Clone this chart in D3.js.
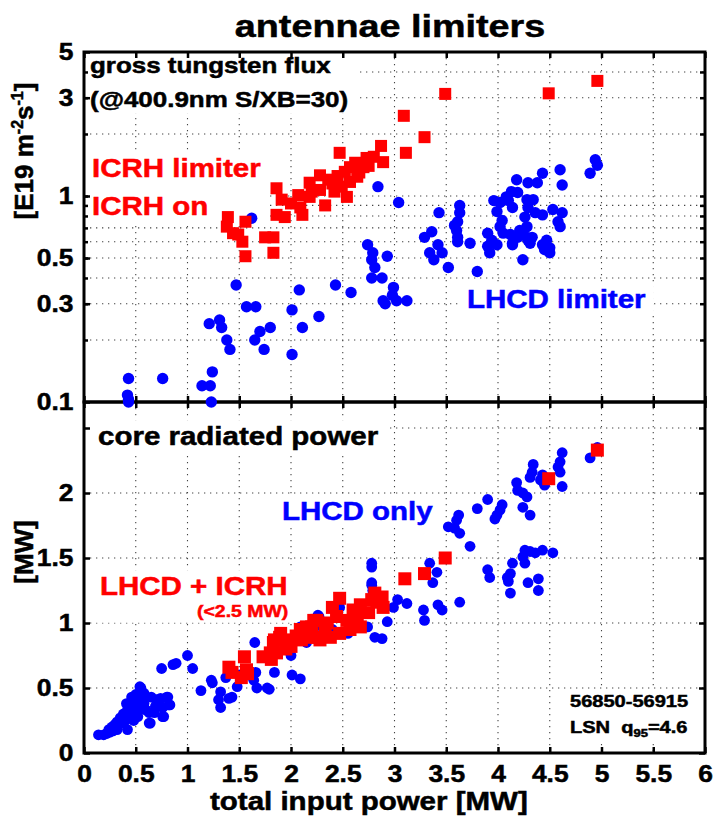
<!DOCTYPE html>
<html><head><meta charset="utf-8">
<script src="https://cdn.jsdelivr.net/npm/d3@7"></script>
<style>
body{margin:0;background:#fff;}
svg{display:block;font-family:"Liberation Sans",Arial,Helvetica,sans-serif;font-weight:bold;}
</style></head><body>
<svg id="chart" width="720" height="816"></svg>
<script>
// ---------------- data ----------------
const xTickValues = [0,0.5,1,1.5,2,2.5,3,3.5,4,4.5,5,5.5,6];
const xGridValues = [0.5,1,1.5,2,2.5,3,3.5,4,4.5,5,5.5];
const fluxTickValues = [0.1,0.3,0.5,1,3,5];
const fluxMinorValues = [0.2,0.3,0.4,0.5,0.6,0.7,0.8,0.9,1,2,3,4];
const radTickValues = [0,0.5,1,1.5,2,2.5];
const radGridValues = [0.5,1,1.5,2,2.5];

// gross tungsten flux, LHCD limiter [total power MW, flux E19 m^-2 s^-1]
const fluxLhcd = [
[0.43,0.13],[0.76,0.13],[1.24,0.14],[1.14,0.12],[1.22,0.12],[0.42,0.108],[0.43,0.103],[0.43,0.10],[1.23,0.10],
[1.21,0.24],[1.31,0.25],[1.33,0.23],[1.38,0.20],[1.41,0.18],[1.47,0.37],[1.57,0.29],[1.66,0.29],[1.70,0.22],[1.65,0.20],
[1.80,0.23],[1.74,0.18],[2.01,0.28],[2.08,0.35],[2.11,0.23],[2.01,0.17],[2.27,0.26],[2.43,0.37],[2.58,0.34],[1.62,0.78],[2.84,1.11],
[2.74,0.58],[2.79,0.53],[2.78,0.49],[2.81,0.45],[2.78,0.40],[2.88,0.40],[2.93,0.51],[2.99,0.36],[2.98,0.33],[2.89,0.31],[2.91,0.30],[3.02,0.31],[3.12,0.31],
[3.04,0.93],[3.43,0.83],[3.63,0.90],[3.63,0.83],[3.61,0.75],[3.60,0.68],[3.61,0.63],[3.61,0.60],[3.58,0.72],[3.73,0.59],[3.29,0.63],[3.36,0.67],
[3.34,0.53],[3.38,0.49],[3.42,0.58],[3.46,0.53],[3.52,0.45],[3.80,0.43],
[3.90,0.66],[3.94,0.61],[3.90,0.57],[3.92,0.53],[3.99,0.58],[4.02,0.93],[4.08,0.99],[3.99,0.84],[4.04,0.76],[4.02,0.71],[4.05,0.66],[4.14,0.88],
[4.12,0.65],[4.14,0.58],[4.19,0.63],[4.14,0.59],[4.21,0.68],[4.28,0.63],[4.31,0.59],[4.24,0.49],
[4.18,1.20],[4.19,1.04],[4.29,1.16],[4.28,0.96],[4.29,0.88],[4.26,0.79],[4.28,0.71],[4.24,0.65],[4.29,0.61],[4.34,0.96],[4.36,0.83],[4.38,1.16],
[4.43,1.29],[4.33,0.63],[4.47,0.61],[4.50,0.56],[4.43,0.58],[4.45,0.55],[4.50,0.53],[4.53,0.86],[4.62,0.83],[4.58,0.75],[4.60,0.71],[4.43,0.81],
[4.60,1.34],[4.62,1.13],[4.94,1.50],[4.96,1.41],[4.89,1.29],[4.10,0.95],[4.13,1.05],[3.96,0.95]
];
// gross tungsten flux, ICRH limiter (ICRH on)
const fluxIcrh = [
[1.39,0.79],[1.38,0.71],[1.44,0.66],[1.49,0.65],[1.56,0.75],[1.53,0.60],[1.56,0.51],[1.75,0.63],[1.83,0.63],[1.83,0.53],
[1.86,0.81],[1.94,0.79],[2.11,0.81],[2.33,0.90],[1.86,1.09],[1.91,0.96],[2.07,1.01],[2.18,0.99],[2.09,0.88],[2.28,1.26],
[2.36,1.20],[2.28,1.07],[2.18,1.16],[2.47,1.62],[2.57,1.38],[2.52,1.31],[2.64,1.24],[2.57,1.17],[2.49,1.11],[2.54,0.99],
[2.70,1.38],[2.80,1.55],[2.73,1.53],[2.87,1.75],[2.89,1.46],[3.09,2.45],[3.29,1.93],[3.11,1.62],[3.49,3.13],[4.49,3.15],[4.96,3.62],
[2.40,1.15],[2.45,1.25],[2.62,1.45],[2.66,1.30],[2.20,1.05],[2.00,0.92],[2.75,1.40],[2.42,1.05]
];
// core radiated power, LHCD only [total power MW, Prad MW]
const radLhcd = [
[4.96,2.35],[4.89,2.27],[4.62,2.31],[4.60,2.24],[4.58,2.20],[4.60,2.16],[4.62,2.05],
[4.34,2.22],[4.33,2.16],[4.31,2.12],[4.18,2.08],[4.19,2.02],[4.24,2.00],[4.28,1.97],[4.43,2.14],[4.45,2.06],[4.41,2.10],
[4.24,1.89],[4.31,1.83],[3.90,1.95],[3.80,1.88],[4.04,1.91],[4.02,1.87],[3.99,1.83],[3.97,1.80],
[3.62,1.83],[3.60,1.79],[3.52,1.74],[3.58,1.73],[3.63,1.69],[3.73,1.59],[2.78,1.46],[2.78,1.43],
[4.26,1.56],[4.31,1.55],[4.24,1.51],[4.26,1.46],[4.36,1.54],[4.43,1.56],[4.53,1.54],[4.14,1.46],[4.12,1.38],[4.09,1.35],[4.10,1.32],
[3.90,1.41],[3.92,1.35],[4.12,1.23],[4.29,1.31],[4.39,1.34],[4.39,1.25],
[3.34,1.46],[3.41,1.39],[3.37,1.31],[3.63,1.16],[3.12,1.15],[3.28,1.10],[3.29,1.02],[3.42,1.14],[3.46,1.10],[2.93,1.01],[2.81,0.89],[2.88,0.88],
[3.03,1.18],[2.78,1.31],[2.78,1.29],[2.79,1.25],[2.99,1.12],[2.74,0.97],[2.26,1.06],[2.09,0.97],[1.65,0.85],[2.47,1.12],[2.27,1.05],[2.10,0.96],
[2.01,0.60],[2.09,0.57],[1.66,0.62],[1.64,0.56],[1.67,0.50],[1.77,0.50],[1.79,0.49],[1.62,0.62],[1.48,0.51],[1.43,0.43],[1.40,0.42],[1.32,0.47],
[1.30,0.41],[1.32,0.35],[1.13,0.48],[1.23,0.56],[1.24,0.54],[1.37,0.58],[1.00,0.75],[1.05,0.65],[0.75,0.65],[0.86,0.68],[0.89,0.69],
[0.55,0.50],[0.51,0.41],[0.48,0.37],[0.42,0.33],[0.39,0.28],[0.32,0.24],[0.27,0.20],[0.19,0.14],[0.24,0.18],[0.36,0.23],[0.45,0.28],[0.53,0.33],
[0.58,0.38],[0.65,0.43],[0.74,0.42],[0.80,0.43],[0.82,0.37],[0.70,0.41],[0.63,0.23],[0.68,0.31],[0.77,0.28],[0.63,0.31],[0.42,0.18],[0.32,0.18],
[0.48,0.25],[0.41,0.38],[0.46,0.43],[0.58,0.46],[0.14,0.14],[0.64,0.23],[0.76,0.28],[0.76,0.35],[0.83,0.37],[0.81,0.43],[0.54,0.51],
[0.50,0.45],[0.44,0.36],[0.38,0.30],[0.30,0.22],[0.25,0.16],[0.35,0.27],[0.47,0.32],[0.56,0.40],[0.60,0.33],[0.52,0.28],[0.40,0.25],
[0.22,0.15],[0.28,0.17],[0.57,0.44],[0.69,0.36],
[1.50,0.60],[1.84,0.62],[2.00,0.75],[2.15,0.85],[2.40,0.95],[2.60,1.05],[2.25,0.98],[2.55,0.92]
];
// core radiated power, LHCD + ICRH (<2.5 MW)
const radIcrh = [
[4.96,2.33],[4.49,2.11],[3.49,1.50],[3.29,1.38],[3.10,1.34],[2.81,1.23],[2.88,1.20],[2.83,1.16],[2.89,1.12],[2.78,1.18],
[2.47,1.19],[2.40,1.12],[2.67,1.14],[2.64,1.05],[2.54,1.02],[2.44,1.05],[2.35,1.00],[2.25,1.02],[2.20,0.97],[2.09,0.95],
[2.16,0.89],[1.99,0.87],[1.89,0.89],[1.83,0.85],[1.80,0.77],[1.73,0.74],[2.67,0.97],[2.57,0.95],[2.47,0.92],[2.38,0.89],[2.28,0.87],
[1.40,0.66],[1.43,0.62],[1.55,0.74],[1.57,0.64],[1.52,0.58],[1.81,0.72],[1.86,0.77],[1.84,0.87],[1.90,0.92],[2.00,0.82],
[2.10,0.87],[2.15,0.97],[2.22,1.02],[2.25,0.89],[1.58,0.61],[2.75,1.08],[2.60,1.10],[2.33,0.95],[1.95,0.80],[2.05,0.90]
];

// ---------------- layout ----------------
const L=84, R=705, T=52, M=402, B=753;
const FONT='"Liberation Sans",Arial,Helvetica,sans-serif';
const SX=1.18;   // horizontal stretch of annotation text
const SXT=1.1;   // horizontal stretch of tick labels
const BLUE="#0000ff", RED="#ff0000";

const svg=d3.select("#chart");
const x=d3.scaleLinear().domain([0,6]).range([L,R]);
const yF=d3.scaleLog().domain([0.1,5]).range([M,T]);
const yR=d3.scaleLinear().domain([0,2.7]).range([B,M]);

svg.append("rect").attr("width",720).attr("height",816).attr("fill","#fff");

// grid
const grid=svg.append("g").attr("stroke","#444").attr("stroke-width",1.1).attr("stroke-dasharray","1.3,4.7");
grid.append("g").selectAll("line").data(xGridValues).join("line")
  .attr("x1",d=>x(d)).attr("x2",d=>x(d)).attr("y1",yF.range()[1]).attr("y2",yF.range()[0]);
grid.append("g").selectAll("line").data(xGridValues).join("line")
  .attr("x1",d=>x(d)).attr("x2",d=>x(d)).attr("y1",yR.range()[1]).attr("y2",yR.range()[0]);
grid.append("g").selectAll("line").data(fluxMinorValues).join("line")
  .attr("x1",L).attr("x2",R).attr("y1",d=>yF(d)).attr("y2",d=>yF(d));
grid.append("g").selectAll("line").data(radGridValues).join("line")
  .attr("x1",L).attr("x2",R).attr("y1",d=>yR(d)).attr("y2",d=>yR(d));

const boxLayer=svg.append("g");

// axes
function styleAxis(g){
  g.attr("font-size",null).attr("font-family",null);
  g.select(".domain").remove();
  g.selectAll(".tick line").attr("stroke","#000").attr("stroke-width",2.5);
  g.selectAll(".tick text").attr("fill","#000").attr("font-size",24).attr("font-family",FONT).attr("font-weight","bold")
    .attr("stroke","#000").attr("stroke-width",0.5);
}
const noLab=()=>"";
const fmt=d=>String(d);
// top panel
svg.append("g").attr("transform",`translate(${L},0)`).call(d3.axisLeft(yF).tickValues(fluxMinorValues).tickSize(-4).tickFormat(noLab)).call(styleAxis);
svg.append("g").attr("transform",`translate(${L},0)`).call(d3.axisLeft(yF).tickValues(fluxTickValues).tickSize(-6).tickPadding(9.5).tickFormat(fmt)).call(styleAxis);
svg.append("g").attr("transform",`translate(${R},0)`).call(d3.axisRight(yF).tickValues(fluxMinorValues).tickSize(-5).tickFormat(noLab)).call(styleAxis);
svg.append("g").attr("transform",`translate(0,${T})`).call(d3.axisTop(x).tickValues(xTickValues).tickSize(-6).tickFormat(noLab)).call(styleAxis);
svg.append("g").attr("transform",`translate(0,${M})`).call(d3.axisBottom(x).tickValues(xTickValues).tickSize(-6).tickFormat(noLab)).call(styleAxis);
// bottom panel
svg.append("g").attr("transform",`translate(0,${M})`).call(d3.axisTop(x).tickValues(xTickValues).tickSize(-6).tickFormat(noLab)).call(styleAxis);
svg.append("g").attr("transform",`translate(0,${B})`).call(d3.axisBottom(x).tickValues(xTickValues).tickSize(-6).tickPadding(12).tickFormat(fmt)).call(styleAxis);
svg.append("g").attr("transform",`translate(${L},0)`).call(d3.axisLeft(yR).tickValues(radTickValues).tickSize(-6).tickPadding(9.5).tickFormat(d=>d===2.5?"":fmt(d))).call(styleAxis);
svg.append("g").attr("transform",`translate(${R},0)`).call(d3.axisRight(yR).tickValues(radTickValues).tickSize(-6).tickFormat(noLab)).call(styleAxis);
svg.selectAll(".tick text").attr("transform",`scale(${SXT},1)`);

// frames
const frame=svg.append("g").attr("fill","none").attr("stroke","#000").attr("stroke-width",3);
frame.append("rect").attr("x",x(0)).attr("y",yF(5)).attr("width",x(6)-x(0)).attr("height",yF(0.1)-yF(5));
frame.append("rect").attr("x",x(0)).attr("y",yR(2.7)).attr("width",x(6)-x(0)).attr("height",yR(0)-yR(2.7));

// data marks
const gData=svg.append("g");
gData.append("g").selectAll("circle").data(fluxLhcd).join("circle")
  .attr("cx",d=>x(d[0])).attr("cy",d=>yF(d[1])).attr("r",5.7).attr("fill",BLUE);
gData.append("g").selectAll("rect").data(fluxIcrh).join("rect")
  .attr("x",d=>x(d[0])-6).attr("y",d=>yF(d[1])-6).attr("width",12).attr("height",12).attr("fill",RED);
gData.append("g").selectAll("circle").data(radLhcd).join("circle")
  .attr("cx",d=>x(d[0])).attr("cy",d=>yR(d[1])).attr("r",5.4).attr("fill",BLUE);
gData.append("g").selectAll("rect").data(radIcrh).join("rect")
  .attr("x",d=>x(d[0])-6.5).attr("y",d=>yR(d[1])-6.5).attr("width",13).attr("height",13).attr("fill",RED);

// texts
const gText=svg.append("g");
function label(grp,str,px,py,size,color,anchor){
  const t=gText.append("text").attr("class",grp?"grp-"+grp:null)
    .attr("transform",`translate(${px},${py}) scale(${SX},1)`)
    .attr("font-size",size).attr("fill",color).attr("stroke",color).attr("stroke-width",0.5)
    .attr("text-anchor",anchor||"start").text(str);
  return t;
}
label(null,"antennae limiters",390,37,32,"#000","middle");
label("g1","gross tungsten flux",90,73,22,"#000");
label("g1","(@400.9nm S/XB=30)",90,107,22,"#000");
label("g2","ICRH limiter",92,177,25,RED);
label("g2","ICRH on",92,215,25,RED);
label("g3","LHCD limiter",467,308,25,BLUE);
label("g4","core radiated power",98,445,25,"#000");
label("g5","LHCD only",282,520,25,BLUE);
label("g6","LHCD + ICRH",100,595,25,RED);
label("g6","(<2.5 MW)",197,617,16.5,RED);
label("g7","56850-56915",570,707,17,"#000");
const lsn=label("g7","LSN\u00a0\u00a0q",570,733,17,"#000");
lsn.append("tspan").attr("font-size",11).attr("dy",4).text("95");
lsn.append("tspan").attr("font-size",17).attr("dy",-4).text("=4.6");
label(null,"total input power [MW]",210,810,25,"#000");

// y labels (rotated)
const yl=gText.append("text").attr("transform","translate(33,151) rotate(-90)")
  .attr("font-size",26).attr("text-anchor","middle").attr("fill","#000").attr("stroke","#000").attr("stroke-width",0.5).text("[E19 m");
yl.append("tspan").attr("font-size",16).attr("dy",-10).text("-2");
yl.append("tspan").attr("font-size",26).attr("dy",10).text("s");
yl.append("tspan").attr("font-size",16).attr("dy",-10).text("-1");
yl.append("tspan").attr("font-size",26).attr("dy",10).text("]");
gText.append("text").attr("transform","translate(33,552) rotate(-90)")
  .attr("font-size",26).attr("text-anchor","middle").attr("fill","#000").attr("stroke","#000").attr("stroke-width",0.5).text("[MW]");

// white background boxes behind annotation texts (from measured text extents)
const panels={g1:[T,M],g2:[T,M],g3:[T,M],g4:[M,B],g5:[M,B],g6:[M,B],g7:[M,B]};
Object.keys(panels).forEach(k=>{
  let x0=1e9,y0=1e9,x1=-1e9,y1=-1e9;
  gText.selectAll(".grp-"+k).each(function(){
    const b=this.getBoundingClientRect();
    x0=Math.min(x0,b.left);y0=Math.min(y0,b.top);x1=Math.max(x1,b.right);y1=Math.max(y1,b.bottom);
  });
  const [pt,pb]=panels[k];
  const bx0=Math.max(L,x0-8), bx1=Math.min(R,x1+8), by0=Math.max(pt,y0-2), by1=Math.min(pb,y1+2);
  boxLayer.append("rect").attr("x",bx0).attr("y",by0).attr("width",bx1-bx0).attr("height",by1-by0).attr("fill","#fff");
});
</script>
</body></html>
